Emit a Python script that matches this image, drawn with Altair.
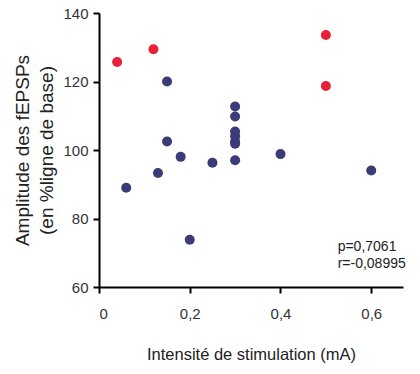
import altair as alt
import pandas as pd

# Data
red_x = [0.04, 0.12, 0.5, 0.5]
red_y = [125.7, 129.4, 133.6, 118.7]
blue_x = [0.15, 0.06, 0.13, 0.15, 0.18, 0.2, 0.25, 0.3, 0.3, 0.3, 0.3, 0.3, 0.3, 0.3, 0.4, 0.6]
blue_y = [120.0, 89.0, 93.3, 102.5, 98.0, 73.8, 96.3, 97.0, 112.7, 109.8, 105.4, 104.0, 102.5, 101.8, 98.8, 94.0]
ann_text = ["p=0,7061", "r=-0,08995"]
ann_x = [0.526, 0.526]
ann_y = [71.6, 66.8]

df = pd.DataFrame({
    "x": red_x + blue_x,
    "y": red_y + blue_y,
    "g": ["red"] * len(red_x) + ["blue"] * len(blue_x),
})
ann = pd.DataFrame({"x": ann_x, "y": ann_y, "t": ann_text})

xs = alt.Scale(domain=[0, 0.67], nice=False)
ys = alt.Scale(domain=[60, 140], nice=False)

FONT = "Liberation Sans"

pts = alt.Chart(df).mark_circle(size=100, opacity=1).encode(
    x=alt.X("x:Q", scale=xs, axis=alt.Axis(
        values=[0, 0.2, 0.4, 0.6], title="Intensité de stimulation (mA)",
        labelExpr="replace(format(datum.value, '.1~f'), '.', ',')",
        grid=False, domainWidth=2, tickWidth=2, tickSize=6, domainColor="black",
        tickColor="black", labelFontSize=15, labelColor="#333333", labelPadding=13,
        titleFontSize=16.5, titleFontWeight="normal", titlePadding=25, titleColor="#222222",
        labelFont=FONT, titleFont=FONT)),
    y=alt.Y("y:Q", scale=ys, axis=alt.Axis(
        values=[60, 80, 100, 120, 140], title=["Amplitude des fEPSPs", "(en %ligne de base)"],
        grid=False, domainWidth=2, tickWidth=2, tickSize=6, domainColor="black",
        tickColor="black", labelFontSize=15, labelColor="#333333", labelPadding=5,
        titleFontSize=19, titleLineHeight=24, titleFontWeight="normal", titlePadding=6,
        titleColor="#222222", labelFont=FONT, titleFont=FONT)),
    color=alt.Color("g:N", scale=alt.Scale(domain=["red", "blue"], range=["#e8203a", "#3b3b78"]), legend=None),
)

txt = alt.Chart(ann).mark_text(align="left", baseline="middle", fontSize=14,
                               font=FONT, color="#222222").encode(
    x=alt.X("x:Q", scale=xs), y=alt.Y("y:Q", scale=ys), text="t:N")

chart = (pts + txt).properties(
    width=304, height=274,
    autosize=alt.AutoSizeParams(type="none"),
    padding={"left": 99, "top": 13, "right": 17, "bottom": 87},
).configure_view(stroke=None)

chart.save("out.html", embed_options={"renderer": "svg", "actions": False})
